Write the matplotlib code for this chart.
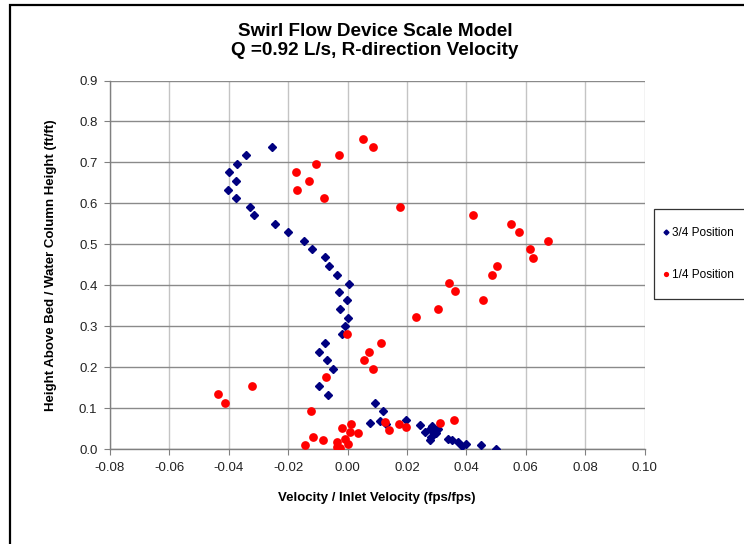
import matplotlib
matplotlib.use('Agg')
import matplotlib.pyplot as plt
from matplotlib.patches import Rectangle

plt.rcParams['font.family'] = ['Liberation Sans', 'DejaVu Sans']
plt.rcParams['axes.unicode_minus'] = False

# 3/4 position (blue diamonds)
blue_x = [-0.0255, -0.0342, -0.0371, -0.0398, -0.0376, -0.0403, -0.0375, -0.0328,
          -0.0314, -0.0243, -0.0200, -0.0148, -0.0120, -0.0076, -0.0062, -0.0037,
          0.0005, -0.0028, -0.0003, -0.0024, 0.0002, -0.0007, -0.0017, -0.0075,
          -0.0095, -0.0070, -0.0050, -0.0095, -0.0066, 0.0093, 0.0120, 0.0076,
          0.0109, 0.0131, 0.0198, 0.0245, 0.0260, 0.0277, 0.0286, 0.0293,
          0.0299, 0.0305, 0.0277, 0.0282, 0.0338, 0.0353, 0.0372, 0.0387,
          0.0398, 0.0448, 0.0501]
blue_y = [0.738, 0.718, 0.696, 0.676, 0.655, 0.633, 0.612, 0.592,
          0.571, 0.550, 0.529, 0.509, 0.488, 0.468, 0.446, 0.425,
          0.404, 0.384, 0.363, 0.341, 0.321, 0.301, 0.280, 0.260,
          0.238, 0.217, 0.196, 0.155, 0.133, 0.113, 0.092, 0.064,
          0.069, 0.062, 0.072, 0.058, 0.041, 0.050, 0.055, 0.044,
          0.038, 0.050, 0.021, 0.029, 0.025, 0.023, 0.017, 0.007,
          0.013, 0.009, 0.001]

# 1/4 position (red circles)
red_x = [0.0051, 0.0085, -0.0028, -0.0106, -0.0175, -0.0130, -0.0169, -0.0079,
         0.0177, 0.0421, 0.0552, 0.0577, 0.0674, 0.0616, 0.0624, 0.0503,
         0.0485, 0.0341, 0.0362, 0.0457, 0.0305, 0.0229, -0.0002, 0.0112,
         0.0071, 0.0055, 0.0086, -0.0072, -0.0321, -0.0435, -0.0413, -0.0123,
         0.0125, 0.0139, 0.0173, 0.0196, 0.0310, 0.0360, -0.0020, 0.0011,
         0.0008, 0.0036, -0.0009, -0.0116, -0.0082, -0.0144, -0.0037, -0.0037,
         -0.0026, 0.0002]
red_y = [0.758, 0.738, 0.717, 0.696, 0.676, 0.655, 0.633, 0.612,
         0.592, 0.572, 0.550, 0.530, 0.508, 0.488, 0.467, 0.446,
         0.425, 0.405, 0.385, 0.363, 0.342, 0.322, 0.280, 0.259,
         0.238, 0.217, 0.196, 0.176, 0.155, 0.135, 0.113, 0.092,
         0.066, 0.046, 0.060, 0.054, 0.064, 0.072, 0.051, 0.062,
         0.041, 0.040, 0.025, 0.029, 0.021, 0.009, 0.017, 0.005,
         0.002, 0.013]

x_ticks = [-0.08, -0.06, -0.04, -0.02, 0.0, 0.02, 0.04, 0.06, 0.08, 0.10]
x_labels = ['-0.08', '-0.06', '-0.04', '-0.02', '0.00', '0.02', '0.04', '0.06', '0.08', '0.10']
y_ticks = [0.0, 0.1, 0.2, 0.3, 0.4, 0.5, 0.6, 0.7, 0.8, 0.9]
y_labels = ['0.0', '0.1', '0.2', '0.3', '0.4', '0.5', '0.6', '0.7', '0.8', '0.9']

fig = plt.figure(figsize=(7.44, 5.44), dpi=100)
ax = fig.add_axes([0.1478, 0.1746, 0.7185, 0.6774])

ax.plot(blue_x, blue_y, linestyle='none', marker='D', markersize=4.2,
        color='#000080', label='3/4 Position', zorder=3)
ax.plot(red_x, red_y, linestyle='none', marker='o', markersize=6.3,
        color='#ff0000', markeredgewidth=0, label='1/4 Position', zorder=4)

ax.set_xlim(-0.08, 0.10)
ax.set_ylim(0.0, 0.9)
ax.set_xticks(x_ticks)
ax.set_xticklabels(x_labels)
ax.set_yticks(y_ticks)
ax.set_yticklabels(y_labels)
ax.tick_params(direction='out', length=4, width=0.8, color='#808080',
               labelsize=9.5, labelcolor='#222222', pad=5)

for t in x_ticks:
    ax.axvline(t, color='#c4c4c4', lw=1.0, zorder=1)
for t in y_ticks:
    ax.axhline(t, color='#8a8a8a', lw=1.0, zorder=1)
for side in ['top', 'right']:
    ax.spines[side].set_visible(False)
for side in ['left', 'bottom']:
    ax.spines[side].set_color('#808080')
    ax.spines[side].set_linewidth(1.0)

ax.set_xlabel('Velocity / Inlet Velocity (fps/fps)', fontsize=9.5, fontweight='bold', labelpad=13)
ax.set_ylabel('Height Above Bed / Water Column Height (ft/ft)', fontsize=9.5, fontweight='bold', labelpad=16)

fig.text(0.504, 1 - 32.0 / 544, 'Swirl Flow Device Scale Model',
         ha='center', va='center', fontsize=13.6, fontweight='bold')
fig.text(0.504, 1 - 50.5 / 544, 'Q =0.92 L/s, R-direction Velocity',
         ha='center', va='center', fontsize=13.6, fontweight='bold')

# legend with a frame that runs past the right edge of the picture
fig.patches.append(Rectangle((0.879, 0.450), 0.2, 0.166, transform=fig.transFigure,
                             fill=False, edgecolor='#333333', lw=0.9))
leg = fig.legend(loc='center left', bbox_to_anchor=(0.891, 0.533), frameon=False,
                 fontsize=8.5, handlelength=0.5, handletextpad=0.3, labelspacing=2.6,
                 markerscale=0.6, borderaxespad=0, borderpad=0)

# outer border of the chart area
fig.patches.append(Rectangle((0.0135, -0.1), 1.2, 1.09, transform=fig.transFigure,
                             fill=False, edgecolor='black', lw=1.6))

fig.savefig('out.png', dpi=100)
